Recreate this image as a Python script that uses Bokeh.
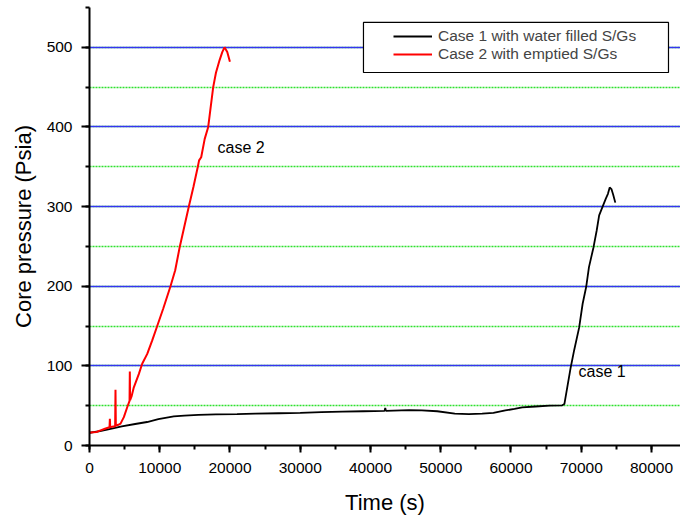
from bokeh.plotting import figure
from bokeh.models import (Range1d, SingleIntervalTicker, Legend, LegendItem,
                          BoxAnnotation, Label)
from bokeh.embed import file_html
from bokeh.resources import INLINE

# ---- data ----
case1_time = [0, 1500, 3000, 4600, 6500, 8200, 9800, 11000, 12000, 13500, 15500,
              18000, 21000, 23600, 27000, 30000, 33000, 36000, 39000, 42000, 42100,
              42200, 45500, 47300, 49500, 52000, 54000, 55900, 57500, 59200, 60500,
              61600, 63500, 65500, 67300, 67600, 68500, 69000, 69700, 70200, 70700,
              71100, 71750, 72200, 72550, 73000, 73500, 73800, 74050, 74300, 74550,
              74850]
case1_pressure = [16, 18, 21, 24, 27, 29.5, 33, 35, 36.5, 37.5, 38.5,
                  39, 39.5, 40, 40.5, 41, 42, 42.5, 43, 43.5, 47,
                  43.5, 44.5, 44, 43, 40, 39.5, 40, 41, 44, 46,
                  48, 49, 50, 50.5, 52, 98, 120, 148, 178, 199,
                  224, 249, 270, 289, 299, 310, 316, 324, 322, 315,
                  305]

case2_time = [0, 500, 1000, 1570, 2200, 2850, 2900, 2950, 3400, 3650, 3700, 3750,
              4100, 4420, 4890, 5370, 5700, 5740, 5780, 6000, 6310, 7030, 7500,
              8220, 8930, 9640, 10500, 11530, 12200, 12860, 13500, 14140, 14800,
              15420, 15600, 15900, 16400, 16900, 17250, 17610, 18000, 18520, 18900,
              19220, 19610, 19990]
case2_pressure = [16, 16.5, 17, 19, 21, 23, 33.5, 23, 24, 24, 70, 25,
                  26, 27.5, 35.6, 48, 56, 93, 57, 62, 73, 90, 102.6,
                  115, 132, 150, 172, 200, 220, 250, 275, 300, 325,
                  350, 358, 362, 385, 400, 425, 450, 468, 484, 494,
                  500, 494, 482]

y_ticks = [0, 100, 200, 300, 400, 500]
x_ticks = [0, 10000, 20000, 30000, 40000, 50000, 60000, 70000, 80000]

legend_labels = ["Case 1 with water filled S/Gs", "Case 2 with emptied S/Gs"]
annot_texts = ["case 2", "case 1"]
annot_x = [18220, 69610]
annot_y = [374.6, 93.3]

FONT = "Liberation Sans"

p = figure(width=680, height=522, output_backend="svg", toolbar_location=None,
           x_range=Range1d(0, 84130), y_range=Range1d(0, 550),
           min_border_left=89, min_border_top=7, min_border_right=0,
           min_border_bottom=77)
p.outline_line_color = None
p.background_fill_color = "white"

# axes
for ax in (p.xaxis[0], p.yaxis[0]):
    ax.axis_line_width = 2
    ax.axis_line_color = "black"
    ax.major_tick_line_width = 2
    ax.minor_tick_line_width = 2
    ax.major_tick_in = 0
    ax.minor_tick_in = 0
    ax.major_label_text_font = FONT
    ax.major_label_text_font_size = "15.5px"
    ax.major_label_text_color = "black"
    ax.axis_label_text_font = FONT
    ax.axis_label_text_font_size = "22px"
    ax.axis_label_text_font_style = "normal"
    ax.axis_label_text_color = "black"

p.xaxis.ticker = SingleIntervalTicker(interval=10000, num_minor_ticks=2)
p.yaxis.ticker = SingleIntervalTicker(interval=100, num_minor_ticks=2)
p.xaxis.major_tick_out = 7
p.xaxis.minor_tick_out = 4
p.yaxis.major_tick_out = 8
p.yaxis.minor_tick_out = 4
p.xaxis.major_label_standoff = 10
p.yaxis.major_label_standoff = 9
p.xaxis.axis_label = "Time (s)"
p.yaxis.axis_label = "Core pressure (Psia)"
p.xaxis.axis_label_standoff = 14
p.yaxis.axis_label_standoff = 8

# grids
p.xgrid.grid_line_color = None
p.ygrid.grid_line_color = "#3535f0"
p.ygrid.grid_line_width = 1.3
p.ygrid.minor_grid_line_color = "#2fe02f"
p.ygrid.minor_grid_line_dash = "2 1"
p.ygrid.minor_grid_line_width = 1.3

# curves
r1 = p.line(case1_time, case1_pressure, line_color="black", line_width=1.8)
r2 = p.line(case2_time, case2_pressure, line_color="red", line_width=2)

# annotations
for t, x, y in zip(annot_texts, annot_x, annot_y):
    p.add_layout(Label(x=x, y=y, text=t, text_font=FONT, text_font_size="16px",
                       text_baseline="middle", text_align="left", text_color="black"))

# legend box (white, black border)
box = BoxAnnotation(left=39000, right=82420, bottom=468.4, top=531.2,
                    fill_color="white", fill_alpha=1.0,
                    line_color="black", line_width=1.2, line_alpha=1.0)
p.add_layout(box)

legend = Legend(items=[LegendItem(label=legend_labels[0], renderers=[r1]),
                       LegendItem(label=legend_labels[1], renderers=[r2])],
                location=(304, 382), padding=0, spacing=0, margin=0,
                glyph_width=39, glyph_height=18, label_height=18,
                label_standoff=6, label_text_font=FONT,
                label_text_font_size="15.5px",
                border_line_alpha=0, background_fill_alpha=0)
p.add_layout(legend)

open("out.html", "w").write(file_html(p, INLINE))
